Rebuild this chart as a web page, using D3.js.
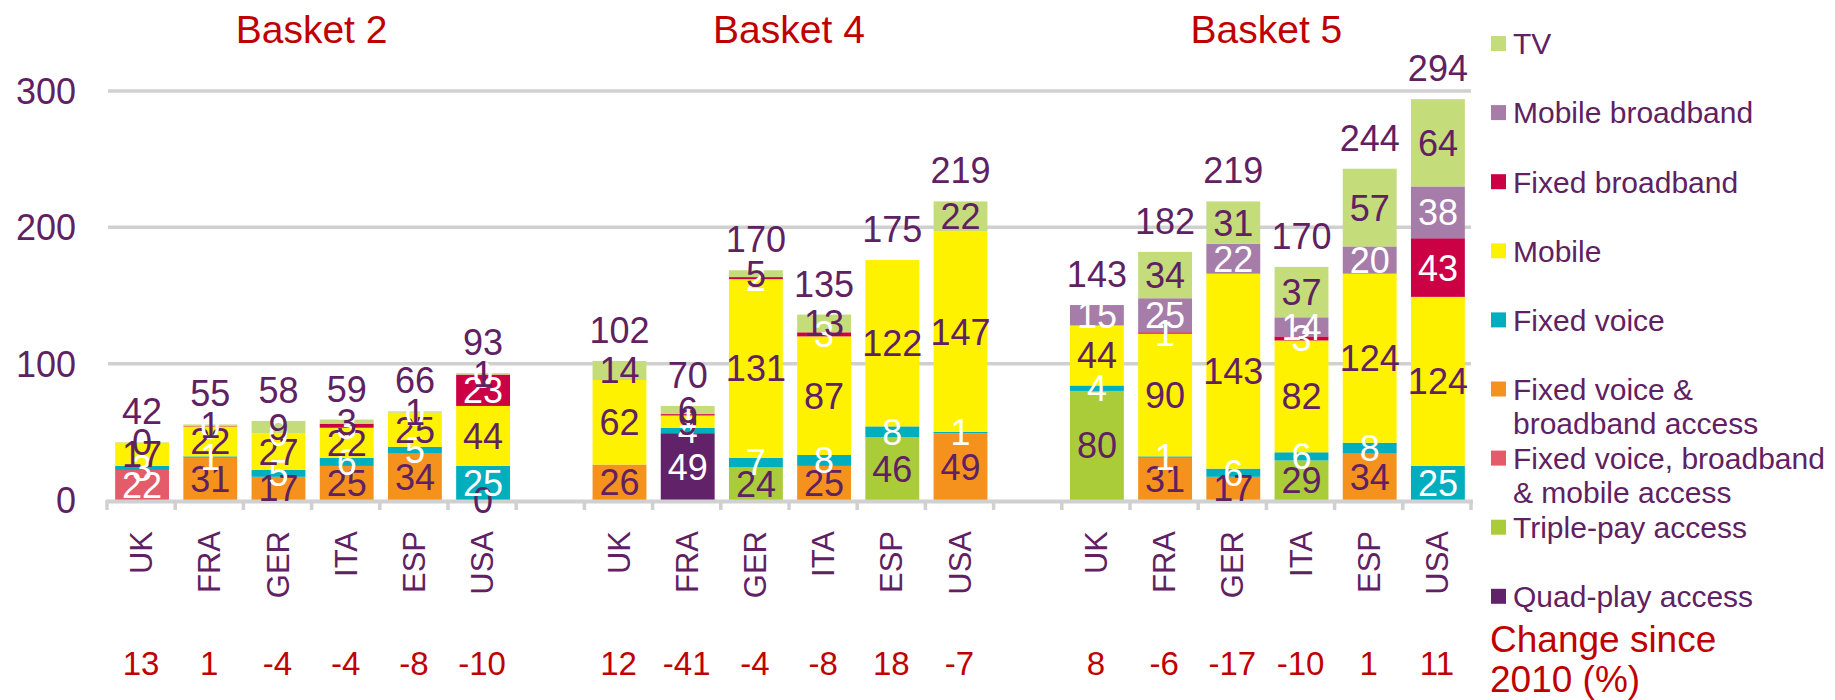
<!DOCTYPE html>
<html>
<head>
<meta charset="utf-8">
<script src="https://cdn.jsdelivr.net/npm/d3@7"></script>
<style>
  body { margin: 0; background: #fff; }
  svg text { font-family: "Liberation Sans", Arial, sans-serif; }
</style>
</head>
<body>
<svg id="chart" width="1835" height="700"></svg>
<script>
var baskets = ["Basket 2", "Basket 4", "Basket 5"];
var countries = ["UK", "FRA", "GER", "ITA", "ESP", "USA"];

// values per bar, order: basket 2 (6 countries), basket 4, basket 5 ; null = not present
var quadPlay   = [null, null, null, null, null, null,  null, 49, null, null, null, null,  null, null, null, null, null, null];
var triplePay  = [null, null, null, null, null, null,  null, null, 24, null, 46, null,  80, null, null, 29, null, null];
var fvbmAccess = [22, null, null, null, null, null,  null, null, null, null, null, null,  null, null, null, null, null, null];
var fvbAccess  = [null, 31, 17, 25, 34, 0,  26, null, null, 25, null, 49,  null, 31, 17, null, 34, null];
var fixedVoice = [3, 1, 5, 6, 5, 25,  null, 4, 7, 8, 8, 1,  4, 1, 6, 6, 8, 25];
var mobile     = [17, 22, 27, 22, 25, 44,  62, 9, 131, 87, 122, 147,  44, 90, 143, 82, 124, 124];
var fixedBB    = [null, 0.4, 0, 3, 0, 23,  null, 1, 1.5, 3, null, null,  null, 1, null, 3, null, 43];
var mobileBB   = [null, null, null, null, null, 0,  null, null, null, null, null, null,  15, 25, 22, 14, 20, 38];
var tv         = [0.4, 1, 9, 3, 1, 1,  14, 6, 5, 13, null, 22,  null, 34, 31, 37, 57, 64];

var totals  = [42, 55, 58, 59, 66, 93,  102, 70, 170, 135, 175, 219,  143, 182, 219, 170, 244, 294];
var changes = [13, 1, -4, -4, -8, -10,  12, -41, -4, -8, 18, -7,  8, -6, -17, -10, 1, 11];

var yTicks = [0, 100, 200, 300];

var purple = "#5f2162";
var red = "#c00000";

// stack order bottom -> top
var series = [
  {key: "quad", name: ["Quad-play access"], values: quadPlay, color: "#61226a", text: "#fff"},
  {key: "triple", name: ["Triple-pay access"], values: triplePay, color: "#a9cc38", text: purple},
  {key: "fvbma", name: ["Fixed voice, broadband", "& mobile access"], values: fvbmAccess, color: "#e45b6a", text: "#fff"},
  {key: "fvba", name: ["Fixed voice &", "broadband access"], values: fvbAccess, color: "#f5921e", text: purple},
  {key: "fvoice", name: ["Fixed voice"], values: fixedVoice, color: "#00aebd", text: "#fff"},
  {key: "mobile", name: ["Mobile"], values: mobile, color: "#fff200", text: purple},
  {key: "fbb", name: ["Fixed broadband"], values: fixedBB, color: "#cc0044", text: "#fff"},
  {key: "mbb", name: ["Mobile broadband"], values: mobileBB, color: "#a67ca9", text: "#fff"},
  {key: "tv", name: ["TV"], values: tv, color: "#c4dc7a", text: purple}
];

var svg = d3.select("#chart");

// slots: 6 bars, a gap, 6 bars, a gap, 6 bars
var slots = [];
var bars = [];
baskets.forEach(function (b, bi) {
  if (bi > 0) slots.push("gap" + bi);
  countries.forEach(function (c) {
    var id = b + "|" + c;
    slots.push(id);
    bars.push({id: id, basket: b, country: c});
  });
});

var x = d3.scaleBand().domain(slots).range([107, 1471]).padding(0);
var y = d3.scaleLinear().domain([0, 300]).range([500, 91]);
var barW = x.bandwidth() * 0.79;

var rows = bars.map(function (b, i) {
  var r = {id: b.id, i: i};
  series.forEach(function (s) { r[s.key] = s.values[i] == null ? 0 : s.values[i]; });
  return r;
});
var stacked = d3.stack().keys(series.map(function (s) { return s.key; }))(rows);

// gridlines
svg.append("g").selectAll("line")
  .data(yTicks.filter(function (d) { return d > 0; }))
  .join("line")
  .attr("x1", 108).attr("x2", 1471)
  .attr("y1", function (d) { return y(d); })
  .attr("y2", function (d) { return y(d); })
  .attr("stroke", "#d0d0d0").attr("stroke-width", 3.5);

// y tick labels
svg.append("g").selectAll("text")
  .data(yTicks)
  .join("text")
  .attr("x", 76)
  .attr("y", function (d) { return y(d); })
  .attr("dy", "0.36em")
  .attr("text-anchor", "end")
  .attr("font-size", 36)
  .attr("fill", purple)
  .text(function (d) { return d; });

// bars
var fmt = d3.format(".0f");
stacked.forEach(function (layer, si) {
  var s = series[si];
  svg.append("g").selectAll("rect")
    .data(layer)
    .join("rect")
    .attr("x", function (d) { return x(d.data.id) + (x.bandwidth() - barW) / 2 + 1; })
    .attr("width", barW)
    .attr("y", function (d) { return y(d[1]); })
    .attr("height", function (d) { return y(d[0]) - y(d[1]); })
    .attr("fill", s.color);
});

// axis baseline and ticks
svg.append("line")
  .attr("x1", 106).attr("x2", 1473)
  .attr("y1", y(0) + 1.5).attr("y2", y(0) + 1.5)
  .attr("stroke", "#d0d0d0").attr("stroke-width", 4);
var bounds = slots.map(function (d) { return x(d); }).concat([x.range()[1]]);
svg.append("g").selectAll("line")
  .data(bounds)
  .join("line")
  .attr("x1", function (d) { return d; }).attr("x2", function (d) { return d; })
  .attr("y1", y(0)).attr("y2", y(0) + 10)
  .attr("stroke", "#d0d0d0").attr("stroke-width", 3.5);

// segment labels
stacked.forEach(function (layer, si) {
  var s = series[si];
  svg.append("g").selectAll("text")
    .data(layer.filter(function (d) { return s.values[d.data.i] != null; }))
    .join("text")
    .attr("x", function (d) { return x(d.data.id) + x.bandwidth() / 2 + 1; })
    .attr("y", function (d) { return (y(d[0]) + y(d[1])) / 2; })
    .attr("dy", "0.36em")
    .attr("text-anchor", "middle")
    .attr("font-size", 36)
    .attr("fill", s.text)
    .text(function (d) { return fmt(s.values[d.data.i]); });
});

// totals above each bar
var topLayer = stacked[stacked.length - 1];
svg.append("g").selectAll("text")
  .data(topLayer)
  .join("text")
  .attr("x", function (d) { return x(d.data.id) + x.bandwidth() / 2 + 1; })
  .attr("y", function (d) { return y(d[1]) - 18; })
  .attr("text-anchor", "middle")
  .attr("font-size", 36)
  .attr("fill", purple)
  .text(function (d) { return totals[d.data.i]; });

// category labels (rotated)
svg.append("g").selectAll("text")
  .data(bars)
  .join("text")
  .attr("transform", function (d) {
    return "translate(" + (x(d.id) + x.bandwidth() / 2) + ",531) rotate(-90)";
  })
  .attr("dy", "0.36em")
  .attr("text-anchor", "end")
  .attr("font-size", 31)
  .attr("fill", purple)
  .text(function (d) { return d.country; });

// change since 2010
svg.append("g").selectAll("text")
  .data(bars)
  .join("text")
  .attr("x", function (d) { return x(d.id) + x.bandwidth() / 2; })
  .attr("y", 663)
  .attr("dy", "0.36em")
  .attr("text-anchor", "middle")
  .attr("font-size", 33)
  .attr("fill", red)
  .text(function (d, i) { return changes[i]; });

// basket titles
svg.append("g").selectAll("text")
  .data(baskets)
  .join("text")
  .attr("x", function (b) {
    return (x(b + "|" + countries[0]) + x(b + "|" + countries[5]) + x.bandwidth()) / 2;
  })
  .attr("y", 43)
  .attr("text-anchor", "middle")
  .attr("font-size", 39)
  .attr("fill", red)
  .text(function (b) { return b; });

// legend (top to bottom = reverse of stack)
var legend = svg.append("g");
series.slice().reverse().forEach(function (s, i) {
  var cy = 43.5 + i * 69.1;
  legend.append("rect")
    .attr("x", 1491).attr("y", cy - 7.5)
    .attr("width", 15).attr("height", 15)
    .attr("fill", s.color);
  s.name.forEach(function (line, j) {
    legend.append("text")
      .attr("x", 1513)
      .attr("y", cy + j * 34.5)
      .attr("dy", "0.36em")
      .attr("font-size", 30)
      .attr("fill", purple)
      .text(line);
  });
});
legend.append("text")
  .attr("x", 1490).attr("y", 639).attr("dy", "0.36em")
  .attr("font-size", 37).attr("fill", red)
  .text("Change since");
legend.append("text")
  .attr("x", 1490).attr("y", 679).attr("dy", "0.36em")
  .attr("font-size", 37).attr("fill", red)
  .text("2010 (%)");
</script>
</body>
</html>
